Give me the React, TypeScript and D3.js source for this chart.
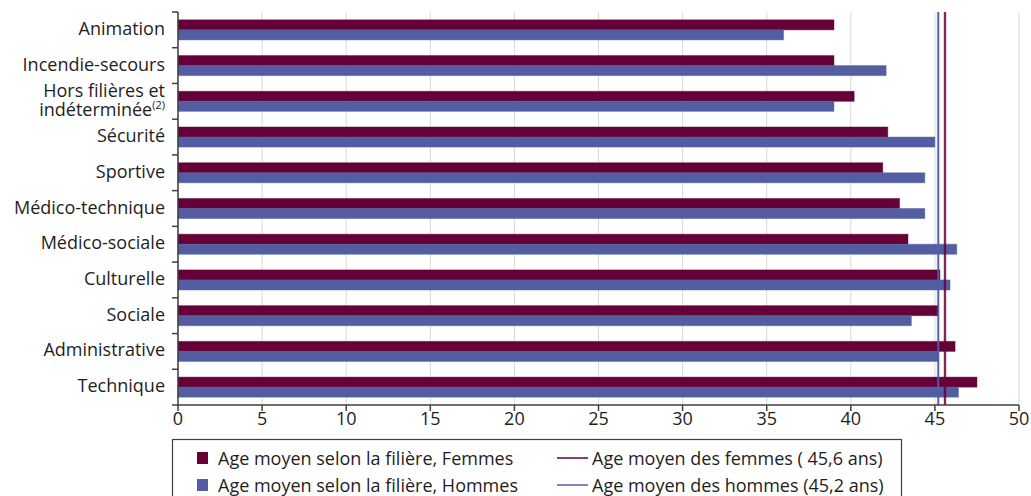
import React from "react";
import * as d3 from "d3";

const categories = [
  "Animation",
  "Incendie-secours",
  "Hors filières et indéterminée",
  "Sécurité",
  "Sportive",
  "Médico-technique",
  "Médico-sociale",
  "Culturelle",
  "Sociale",
  "Administrative",
  "Technique",
];
const femmes = [39.0, 39.0, 40.2, 42.2, 41.9, 42.9, 43.4, 45.3, 45.2, 46.2, 47.5];
const hommes = [36.0, 42.1, 39.0, 45.0, 44.4, 44.4, 46.3, 45.9, 43.6, 45.2, 46.4];
const meanFemmes = 45.6;
const meanHommes = 45.2;
const xTicks = [0, 5, 10, 15, 20, 25, 30, 35, 40, 45, 50];
const seriesKeys = ["Femmes", "Hommes"];
const legendBars = ["Age moyen selon la filière, Femmes", "Age moyen selon la filière, Hommes"];
const legendLines = ["Age moyen des femmes ( 45,6 ans)", "Age moyen des hommes (45,2 ans)"];

const W = 1031;
const H = 496;
const FONT = "'Open Sans', 'Noto Sans', sans-serif";
const COL_F = "#650038";
const COL_M = "#535ea2";
const TXT = "#1e1e1e";
const AXIS = "#404040";
const FS = 18;

export default function App() {
  const left = 178;
  const right = 1019;
  const top = 12;
  const bottom = 405;

  const x = d3.scaleLinear().domain([0, 50]).range([left, right]);
  const y = d3.scaleBand<string>().domain(categories).range([top, bottom]).padding(0);
  const inner = d3
    .scaleBand<string>()
    .domain(seriesKeys)
    .range([0, y.bandwidth()])
    .paddingInner(0)
    .paddingOuter(0.78);

  const values = [femmes, hommes];
  const colors = [COL_F, COL_M];

  const boundaries = categories.map((c) => y(c)!).concat([bottom]);

  return (
    <svg
      width={W}
      height={H}
      style={{ position: "absolute", left: 0, top: 0, display: "block" }}
      fontFamily={FONT}
    >
      <rect x={0} y={0} width={W} height={H} fill="#fff" />
      {/* gridlines */}
      {xTicks.map((t) => (
        <line key={"g" + t} x1={x(t)} x2={x(t)} y1={top} y2={bottom} stroke="#d9d9d9" strokeWidth={1} />
      ))}
      {/* bars */}
      {categories.map((c, i) => (
        <g key={c}>
          {seriesKeys.map((k, j) => (
            <rect
              key={k}
              x={x(0)}
              y={y(c)! + inner(k)!}
              width={x(values[j][i]) - x(0)}
              height={inner.bandwidth()}
              fill={colors[j]}
              stroke={colors[j]}
              strokeOpacity={0.45}
              strokeWidth={1}
            />
          ))}
        </g>
      ))}
      {/* mean lines */}
      {[
        [meanHommes, COL_M],
        [meanFemmes, COL_F],
      ].map(([v, col]) => (
        <g key={String(v)}>
          <line x1={x(v as number)} x2={x(v as number)} y1={top} y2={bottom} stroke={col as string} strokeOpacity={0.35} strokeWidth={3} />
          <line x1={x(v as number)} x2={x(v as number)} y1={top} y2={bottom} stroke={col as string} strokeWidth={1.5} />
        </g>
      ))}
      {/* y axis */}
      <line x1={left} x2={left} y1={top} y2={bottom} stroke={AXIS} strokeWidth={1.5} />
      {boundaries.map((b, i) => (
        <line key={"yt" + i} x1={left - 6} x2={left} y1={b} y2={b} stroke={AXIS} strokeWidth={1.5} />
      ))}
      {/* x axis */}
      <line x1={left} x2={right} y1={bottom} y2={bottom} stroke={AXIS} strokeWidth={1.5} />
      {xTicks.map((t) => (
        <g key={"xt" + t}>
          <line x1={x(t)} x2={x(t)} y1={bottom} y2={bottom + 6} stroke={AXIS} strokeWidth={1.5} />
          <text x={x(t)} y={bottom + 13} textAnchor="middle" dominantBaseline="central" fontSize={FS} fill={TXT}>
            {t}
          </text>
        </g>
      ))}
      {/* category labels */}
      {categories.map((c) => {
        const cy = y(c)! + y.bandwidth() / 2 - 2;
        if (c === "Hors filières et indéterminée") {
          return (
            <g key={"l" + c}>
              <text x={165} y={cy - 9.5} textAnchor="end" dominantBaseline="central" fontSize={FS} fill={TXT}>
                Hors filières et
              </text>
              <text x={165} y={cy + 9.5} textAnchor="end" dominantBaseline="central" fontSize={FS} fill={TXT}>
                indéterminée
                <tspan fontSize={11} dy={-5}>(2)</tspan>
              </text>
            </g>
          );
        }
        return (
          <text key={"l" + c} x={165} y={cy} textAnchor="end" dominantBaseline="central" fontSize={FS} fill={TXT}>
            {c}
          </text>
        );
      })}
      {/* legend */}
      <rect x={172.5} y={439.5} width={729} height={70} fill="none" stroke={AXIS} strokeWidth={1.2} />
      {legendBars.map((l, i) => (
        <g key={l}>
          <rect x={197} y={452 + i * 27} width={11} height={12} fill={colors[i]} />
          <text x={218} y={458 + i * 27} dominantBaseline="central" fontSize={FS} fill={TXT}>
            {l}
          </text>
        </g>
      ))}
      {legendLines.map((l, i) => (
        <g key={l}>
          <line x1={557} x2={588} y1={458 + i * 27} y2={458 + i * 27} stroke={colors[i]} strokeWidth={1.5} />
          <text x={592} y={458 + i * 27} dominantBaseline="central" fontSize={FS} fill={TXT}>
            {l}
          </text>
        </g>
      ))}
    </svg>
  );
}
